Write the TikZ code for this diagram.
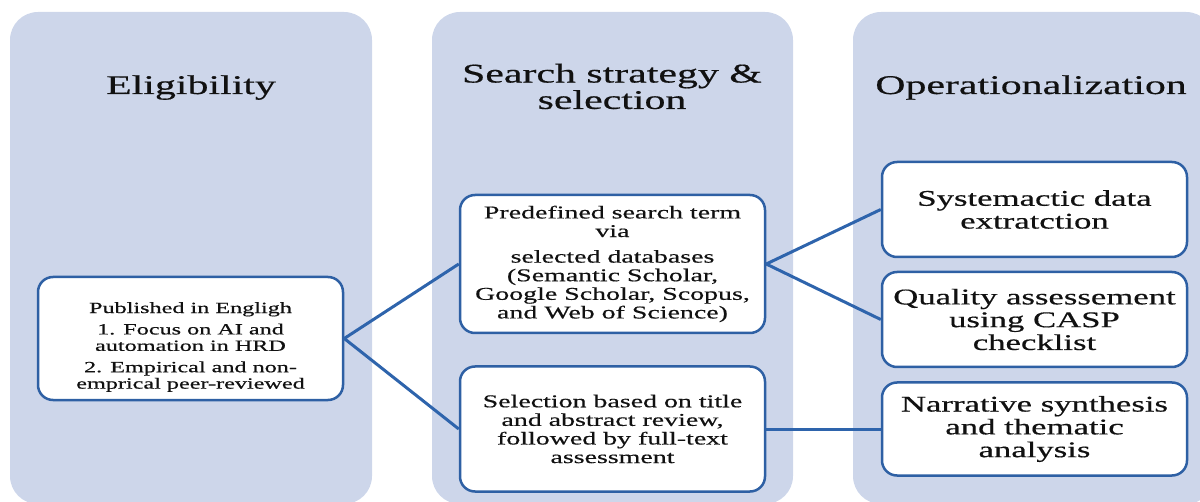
\documentclass[tikz,border=0pt]{standalone}
\usepackage{fontspec}
\setmainfont{Liberation Serif}[FakeStretch=1.55, FakeBold=0.5]
\definecolor{panelfill}{RGB}{205,214,234}
\definecolor{boxline}{RGB}{46,96,164}
\definecolor{linkblue}{RGB}{46,100,172}
\definecolor{ink}{RGB}{17,17,17}
\begin{document}
\begin{tikzpicture}[x=0.5pt,y=-0.5pt,
  panel/.style={fill=panelfill, rounded corners=14pt},
  phase/.style={text=ink, inner sep=0pt, align=center, font=\fontsize{13.5}{13.2}\selectfont},
  stepbox/.style={draw=boxline, line width=1.25pt, fill=white, rounded corners=7.5pt,
    minimum width=152.5pt, align=center, inner sep=0pt, text=ink},
  small/.style={font=\fontsize{7.8}{8.2}\selectfont},
  mid/.style={font=\fontsize{9}{9.3}\selectfont},
  large/.style={font=\fontsize{11.2}{11.4}\selectfont},
  link/.style={draw=linkblue, line width=1.5pt}]
\useasboundingbox (0,0) rectangle (1200,502);
\clip (0,0) rectangle (1200,502);

% three phase panels
\fill[panel] (10,12) rectangle (372,504);
\fill[panel] (432,12) rectangle (793,504);
\fill[panel] (853,12) rectangle (1214,504);

% panel titles
\node[phase, anchor=base] (t1) at (191,94) {Eligibility};
\node[phase] (t2) at (612,86.5) {Search strategy \&\\selection};
\node[phase, anchor=base] (t3) at (1031,94) {Operationalization};

% boxes (the strut on the first line of the criteria box lowers its text a little)
\node[stepbox, small, minimum height=61.5pt] (elig) at (190.5,338.5)
  {\rule{0pt}{14pt}Published in Engligh\\[2.5pt]1. Focus on AI and\\automation in HRD\\[2.5pt]2. Empirical and non-\\emprical peer-reviewed};
\node[stepbox, mid, minimum height=69pt] (search) at (612.5,264)
  {Predefined search term\\via\\[3.5pt]selected databases\\(Semantic Scholar,\\Google Scholar, Scopus,\\and Web of Science)};
\node[stepbox, mid, minimum height=62.5pt] (select) at (612.5,429)
  {Selection based on title\\and abstract review,\\followed by full-text\\assessment};
\node[stepbox, large, minimum height=47.5pt] (extract) at (1034.5,209.5)
  {Systemactic data\\extratction};
\node[stepbox, large, minimum height=47.5pt] (quality) at (1034.5,319.5)
  {Quality assessement\\using CASP\\checklist};
\node[stepbox, large, minimum height=46.5pt] (synth) at (1034.5,429)
  {Narrative synthesis\\and thematic\\analysis};

% connectors
\draw[link] (elig.east) -- (search.west);
\draw[link] (elig.east) -- (select.west);
\draw[link] (search.east) -- (extract.west);
\draw[link] (search.east) -- (quality.west);
\draw[link] (select.east) -- (synth.west);
\end{tikzpicture}
\end{document}
